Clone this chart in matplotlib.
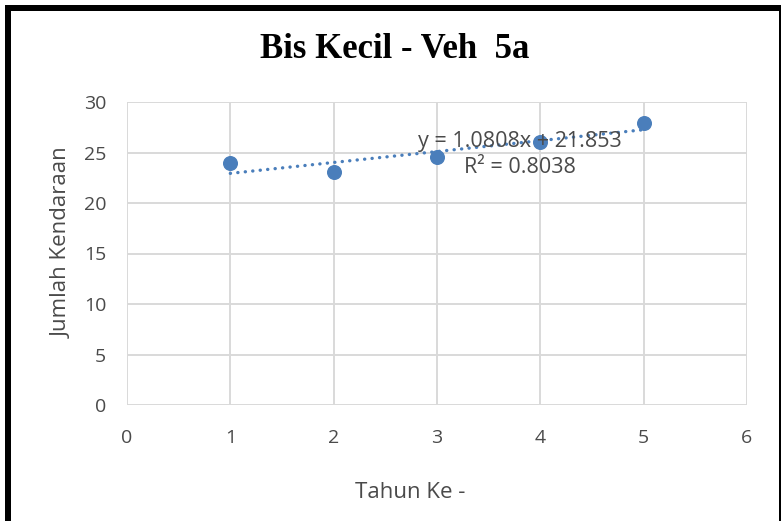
import matplotlib
matplotlib.use("Agg")
import matplotlib.pyplot as plt
from matplotlib.patches import Rectangle
import numpy as np

# Data
tahun = [1, 2, 3, 4, 5]
jumlah = [23.99, 23.03, 24.53, 26.02, 27.90]
slope = 1.0808
intercept = 21.853
r_squared = 0.8038
x_ticks = [0, 1, 2, 3, 4, 5, 6]
y_ticks = [0, 5, 10, 15, 20, 25, 30]

title = "Bis Kecil - Veh  5a"
x_label = "Tahun Ke -"
y_label = "Jumlah Kendaraan"

W, H = 783, 521
DPI = 100
blue = "#4A7EBB"
grey_text = "#4A4A4A"
grid_col = "#D9D9D9"

plt.rcParams["font.family"] = ["Open Sans", "DejaVu Sans"]

fig = plt.figure(figsize=(W / DPI, H / DPI), dpi=DPI)
fig.patch.set_facecolor("white")

# Plot area in pixel terms
left, right, top, bottom = 127, 747, 102, 405
ax = fig.add_axes([left / W, 1 - bottom / H, (right - left) / W, (bottom - top) / H])

ax.set_xlim(x_ticks[0], x_ticks[-1])
ax.set_ylim(y_ticks[0], y_ticks[-1])
ax.set_xticks(x_ticks)
ax.set_yticks(y_ticks)
ax.set_xticklabels([str(v) for v in x_ticks])
ax.set_yticklabels([str(v) for v in y_ticks])
ax.tick_params(axis="both", length=0, labelsize=14, colors=grey_text)
ax.tick_params(axis="y", pad=15)
ax.tick_params(axis="x", pad=17)

for s in ax.spines.values():
    s.set_visible(False)
ax.grid(True, color=grid_col, linewidth=1.4, zorder=0)
ax.set_axisbelow(True)

# Scatter points
ax.plot(tahun, jumlah, linestyle="none", marker="o", markersize=9.8,
        color=blue, zorder=3)

# Linear trendline
xt = np.array([tahun[0], tahun[-1]], dtype=float)
yt = slope * xt + intercept
ax.plot(xt, yt, color=blue, linewidth=2.4, linestyle=(0, (0.05, 2.2)),
        dash_capstyle="round", zorder=4)

# Trendline equation
ax.text(3.80, 24.8,
        f"y = {slope:.4f}x + {intercept:.3f}\nR\u00b2 = {r_squared:.4f}",
        ha="center", va="center", multialignment="center",
        fontsize=15.5, color=grey_text, linespacing=1.35, zorder=5)

# Titles
fig.text(395 / W, 1 - 50 / H, title, ha="center", va="center",
         fontsize=25, fontweight="bold", family=["Liberation Serif", "DejaVu Serif"],
         color="black")
fig.text(410 / W, 1 - 492 / H, x_label, ha="center", va="center",
         fontsize=16, color=grey_text)
fig.text(62 / W, 1 - 243 / H, y_label, ha="center", va="center",
         rotation=90, fontsize=16, color=grey_text)

# Black frame on the top, left and right edges
def px_rect(x0, y0, x1, y1):
    fig.add_artist(Rectangle((x0 / W, 1 - y1 / H), (x1 - x0) / W, (y1 - y0) / H,
                             transform=fig.transFigure, facecolor="black",
                             edgecolor="none", zorder=10))

px_rect(5, 5, 781, 11)
px_rect(5, 5, 11, H)
px_rect(779, 5, 781, H)

fig.savefig("out.png", dpi=DPI)
